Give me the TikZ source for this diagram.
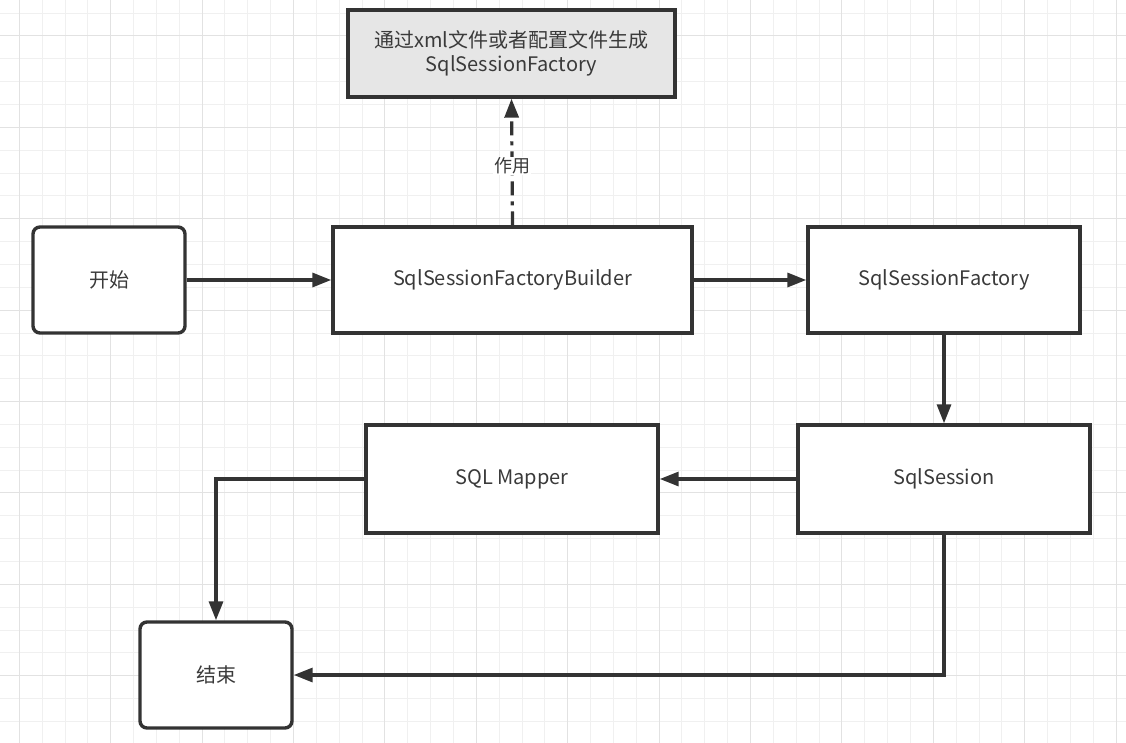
\documentclass[tikz,border=0pt]{standalone}
\usepackage{fontspec}
\usepackage{xcolor}
\usepackage{tikz}
\usetikzlibrary{arrows.meta, positioning}
\setmainfont{Noto Sans CJK SC}
\definecolor{flowline}{HTML}{333333}
\definecolor{flowtext}{HTML}{3A3A3A}
\definecolor{flowgray}{HTML}{E6E6E6}
\definecolor{gridminor}{HTML}{F0F0F0}
\definecolor{gridmajor}{HTML}{E2E2E2}

\tikzset{
  flowbox/.style={draw=flowline, line width=3.4pt, fill=white, align=center,
    text=flowtext, font=\fontsize{20}{24}\selectfont, inner sep=0pt},
  startbox/.style={flowbox, rounded corners=7pt, minimum width=152pt, minimum height=106pt},
  stepbox/.style={flowbox, minimum width=292pt, minimum height=108pt},
  flowarrow/.style={draw=flowline, line width=3.2pt, -{Triangle[length=19pt, width=14pt]}},
}

\begin{document}
\begin{tikzpicture}[x=1pt, y=-1pt]
\useasboundingbox (0,0) rectangle (1126,743);
\fill[white] (0,0) rectangle (1126,743);
% grid
\foreach \i in {0,...,49} {
  \draw[gridminor, line width=1pt] ({19.3+22.85*(\i-1)},0) -- ++(0,743);
}
\foreach \i in {0,...,33} {
  \draw[gridminor, line width=1pt] (0,{13.1+22.85*(\i-1)}) -- ++(1126,0);
}
\foreach \i in {0,...,13} {
  \draw[gridmajor, line width=1pt] ({19.3+91.4*\i},0) -- ++(0,743);
}
\foreach \i in {0,...,8} {
  \draw[gridmajor, line width=1pt] (0,{35.9+91.4*\i}) -- ++(1126,0);
}

% boxes
\node[startbox] (start) at (109,280) {\raisebox{-2pt}{开始}};
\node[stepbox, minimum width=359pt, minimum height=106pt] (builder) at (512.5,280) {\raisebox{-2pt}{SqlSessionFactoryBuilder}};
\node[stepbox, minimum width=272pt, minimum height=106pt] (factory) at (944,280) {\raisebox{-2pt}{SqlSessionFactory}};
\node[stepbox, fill=flowgray, minimum width=327pt, minimum height=87pt] (xmlconf) at (511.5,53.5) {通过xml文件或者配置文件生成\\SqlSessionFactory};
\node[stepbox] (session) at (944,479) {\raisebox{-2pt}{SqlSession}};
\node[stepbox] (mapper) at (512,479) {\raisebox{-2pt}{SQL Mapper}};
\node[startbox] (finish) at (216,675) {\raisebox{-2pt}{结束}};

% connectors
\draw[flowarrow] (start) -- (builder);
\draw[flowarrow] (builder) -- (factory);
\draw[flowarrow, dash pattern={on 14pt off 6pt on 4pt off 6pt}] (builder.north) -- (xmlconf.south)
  node[pos=0.47, fill=white, text=flowtext, font=\fontsize{18}{20}\selectfont, inner sep=1pt] (uselabel) {作用};
\draw[flowarrow] (factory) -- (session);
\draw[flowarrow] (session) -- (mapper);
\draw[flowarrow] (mapper.west) -| (finish.north);
\draw[flowarrow] (session.south) |- (finish.east);
\end{tikzpicture}
\end{document}
